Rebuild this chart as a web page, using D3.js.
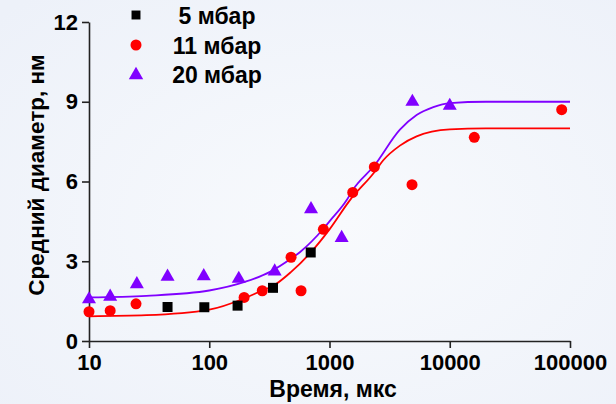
<!DOCTYPE html>
<html><head><meta charset="utf-8">
<script src="https://cdn.jsdelivr.net/npm/d3@7"></script>
<style>html,body{margin:0;padding:0;background:#f2f5fb;}svg{display:block;}</style>
</head><body>
<script>
// ---- data ----
const seriesNames = ["5 мбар", "11 мбар", "20 мбар"];
const time5 = [45, 91, 172, 339, 698];
const diam5 = [1.28, 1.27, 1.33, 2.0, 3.33];
const time11 = [10, 15, 24.6, 195, 276, 479, 580, 889, 1560, 2360, 4856, 16000, 85300];
const diam11 = [1.10, 1.14, 1.40, 1.64, 1.89, 3.15, 1.89, 4.2, 5.59, 6.55, 5.88, 7.66, 8.70];
const time20 = [10, 15, 25, 45, 90, 176, 350, 702, 1262, 4890, 10000];
const diam20 = [1.57, 1.67, 2.14, 2.42, 2.44, 2.34, 2.62, 4.96, 3.88, 9.0, 8.85];
// fitted curves
const fitTime11 = [10, 30, 100, 195, 276, 339, 480, 698, 1000, 1480, 2360, 2800, 3850, 5300, 10000, 20000, 100000];
const fitDiam11 = [0.93, 0.97, 1.18, 1.6, 1.9, 2.07, 2.6, 3.33, 4.2, 5.3, 6.35, 6.8, 7.35, 7.7, 7.96, 8.0, 8.0];
const fitTime20 = [10, 30, 100, 200, 320, 480, 570, 900, 1000, 1390, 1560, 2360, 3850, 5300, 7300, 10000, 20000, 100000];
const fitDiam20 = [1.64, 1.70, 1.90, 2.23, 2.6, 3.1, 3.35, 4.25, 4.5, 5.3, 5.68, 6.6, 7.95, 8.5, 8.8, 8.95, 9.0, 9.0];
const xMajorTicks = [10, 100, 1000, 10000, 100000];
const yMajorTicks = [0, 3, 6, 9, 12];
const yMinorTicks = [1.5, 4.5, 7.5, 10.5];
const xTitle = "Время, мкс";
const yTitle = "Средний диаметр, нм";

const W = 616, H = 404;
const FONT = "'Liberation Sans', Arial, sans-serif";
const cRed = "#ff0000", cPur = "#8000ff", cBlk = "#000000";

const svg = d3.select("body").append("svg").attr("width", W).attr("height", H);
const defs = svg.append("defs");
const rg = defs.append("radialGradient").attr("id", "bg").attr("cx", "55%").attr("cy", "55%").attr("r", "75%");
rg.append("stop").attr("offset", "0%").attr("stop-color", "#f8fafd");
rg.append("stop").attr("offset", "100%").attr("stop-color", "#edf1f9");
svg.append("rect").attr("width", W).attr("height", H).attr("fill", "url(#bg)");

const x = d3.scaleLog().domain([10, 100000]).range([89, 570]);
const y = d3.scaleLinear().domain([0, 12]).range([341, 22]);

// minor x ticks
const xMinor = [];
for (let d = 10; d < 100000; d *= 10) for (let k = 2; k <= 9; k++) xMinor.push(d * k);

const gx = svg.append("g").attr("transform", "translate(0,341)");
gx.call(d3.axisBottom(x).tickValues(xMinor).tickSize(4).tickSizeOuter(0).tickFormat(""));
gx.call(d3.axisBottom(x).tickValues(xMajorTicks).tickSize(7).tickSizeOuter(0).tickPadding(6).tickFormat(d3.format("d")));
const gy = svg.append("g").attr("transform", "translate(89,0)");
gy.call(d3.axisLeft(y).tickValues(yMinorTicks).tickSize(4).tickSizeOuter(0).tickFormat(""));
gy.call(d3.axisLeft(y).tickValues(yMajorTicks).tickSize(7).tickSizeOuter(0).tickPadding(4));
svg.selectAll(".tick line, .domain").attr("stroke", "#222").attr("stroke-width", 1.6);
svg.selectAll(".tick text").attr("font-family", FONT).attr("font-weight", "bold").attr("font-size", 22).attr("fill", "#000");

// titles
svg.append("text").attr("x", 333).attr("y", 397).attr("text-anchor", "middle")
  .attr("font-family", FONT).attr("font-weight", "bold").attr("font-size", 23).text(xTitle);
svg.append("text").attr("transform", "translate(44,175) rotate(-90)").attr("text-anchor", "middle")
  .attr("font-family", FONT).attr("font-weight", "bold").attr("font-size", 22.5).text(yTitle);

// fit curves
const line = d3.line().x(d => x(d[0])).y(d => y(d[1])).curve(d3.curveMonotoneX);
svg.append("path").datum(fitTime11.map((t, i) => [t, fitDiam11[i]])).attr("d", line)
  .attr("fill", "none").attr("stroke", cRed).attr("stroke-width", 1.8);
svg.append("path").datum(fitTime20.map((t, i) => [t, fitDiam20[i]])).attr("d", line)
  .attr("fill", "none").attr("stroke", cPur).attr("stroke-width", 1.8);

// points
const sq = d3.symbol().type(d3.symbolSquare).size(100);
const ci = d3.symbol().type(d3.symbolCircle).size(95);
const tr = d3.symbol().type(d3.symbolTriangle).size(85);
svg.append("g").selectAll("path").data(time20.map((t, i) => [t, diam20[i]])).join("path")
  .attr("d", tr).attr("transform", d => `translate(${x(d[0])},${y(d[1])})`).attr("fill", cPur);
svg.append("g").selectAll("path").data(time11.map((t, i) => [t, diam11[i]])).join("path")
  .attr("d", ci).attr("transform", d => `translate(${x(d[0])},${y(d[1])})`).attr("fill", cRed);
svg.append("g").selectAll("path").data(time5.map((t, i) => [t, diam5[i]])).join("path")
  .attr("d", sq).attr("transform", d => `translate(${x(d[0])},${y(d[1])})`).attr("fill", cBlk);

// legend
const legSym = [d3.symbol().type(d3.symbolSquare).size(80), d3.symbol().type(d3.symbolCircle).size(95), d3.symbol().type(d3.symbolTriangle).size(90)];
const legCol = [cBlk, cRed, cPur];
const legY = [15, 45, 75];
const legBase = [24, 54, 83];
seriesNames.forEach((n, i) => {
  svg.append("path").attr("d", legSym[i]).attr("transform", `translate(136,${legY[i]})`).attr("fill", legCol[i]);
  svg.append("text").attr("x", 217).attr("y", legBase[i]).attr("text-anchor", "middle")
    .attr("font-family", FONT).attr("font-weight", "bold").attr("font-size", 23).text(n);
});
</script>
</body></html>
